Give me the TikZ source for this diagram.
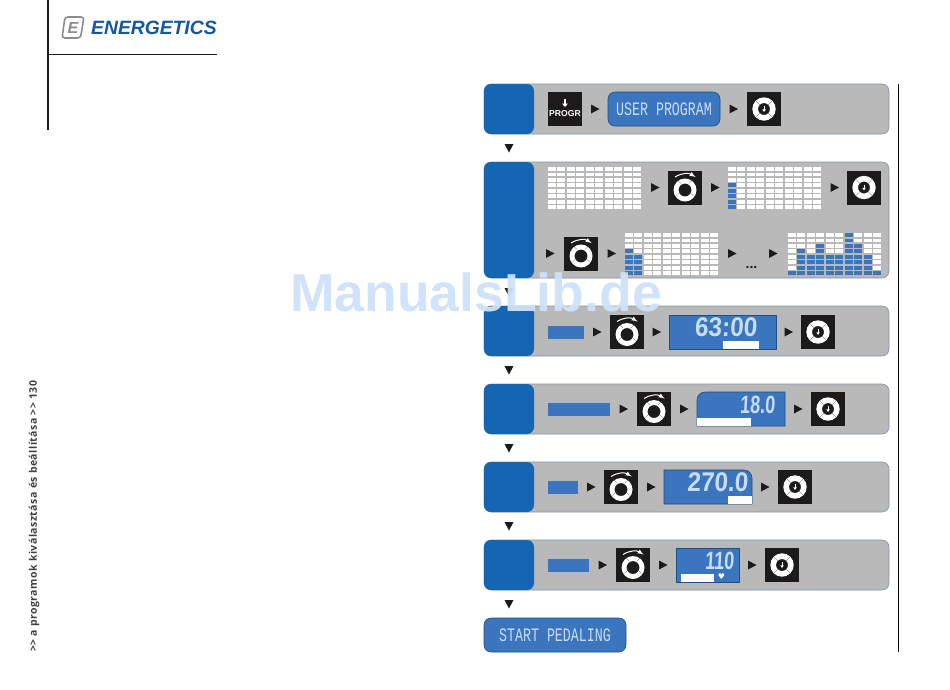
\documentclass[tikz,border=0pt]{standalone}
\usepackage{fontspec}
\usetikzlibrary{positioning, decorations.markings}
\setmainfont{Liberation Sans}
\newfontfamily\lcdfont[FakeStretch=0.7]{Liberation Mono}
\newfontfamily\valuefont[FakeStretch=0.9, FakeSlant=0.06]{Liberation Sans}
\newfontfamily\shortvaluefont[FakeStretch=0.72, FakeSlant=0.06]{Liberation Sans}
\newfontfamily\marginfont[LetterSpace=4.5]{Open Sans}
\newfontfamily\heartfont{DejaVu Sans}
\definecolor{tabblue}{HTML}{1566B2}
\definecolor{lcdblue}{HTML}{3A75BD}
\definecolor{lcdedge}{HTML}{1F4F85}
\definecolor{lcdtext}{HTML}{C9DCF2}
\definecolor{panelgray}{HTML}{B9B9B9}
\definecolor{paneledge}{HTML}{7F93A8}
\definecolor{keyblack}{HTML}{1C1A1B}
\definecolor{logoblue}{HTML}{14589F}
\definecolor{logogray}{HTML}{8C8C8C}
\definecolor{markblue}{HTML}{CFE2FA}
\tikzset{
  panel/.style={fill=panelgray, draw=paneledge, line width=0.6pt, rounded corners=7pt, minimum width=405pt, inner sep=0pt, outer sep=0pt},
  steptab/.style={fill=tabblue, rounded corners=7pt, minimum width=50pt, inner sep=0pt, outer sep=0pt},
  keybox/.style={fill=keyblack, minimum width=34pt, minimum height=34pt, inner sep=0pt, outer sep=0pt},
  okdial/.style={keybox, path picture={
    \begin{scope}[shift={(path picture bounding box.center)}, x=1pt, y=1pt]
      \fill[white, even odd rule] (0,0) circle (11.7) (0,0) circle (6);
      \foreach \gap in {45,135,225,315} \draw[keyblack!80, line width=0.3pt] (\gap:5.5) -- (\gap:12);
      \draw[white, line width=0.7pt] (0,2.8) -- (0,-0.5);
      \fill[white] (-1.8,-0.3) -- (1.8,-0.3) -- (0,-3) -- cycle;
    \end{scope}}},
  turndial/.style={keybox, path picture={
    \begin{scope}[shift={(path picture bounding box.center)}, x=1pt, y=1pt]
      \fill[white, even odd rule] (0,-2.5) circle (11.5) (0,-2.5) circle (6.5);
      \foreach \gap in {45,135,225,315} \draw[keyblack!80, line width=0.3pt, shift={(0,-2.5)}] (\gap:6) -- (\gap:12);
      \draw[white, line width=1pt, ->] (-10,10.5) to[bend left=32] (10.5,10.5);
    \end{scope}}},
  ledgrid/.style={minimum width=94pt, minimum height=43pt, inner sep=0pt, outer sep=0pt, path picture={
    \begin{scope}[shift={(path picture bounding box.center)}, x=1pt, y=1pt]
      \foreach \level [count=\col from 0] in {#1}
        \foreach \row in {1,...,8} {
          \ifnum\row>\level \def\cellcolor{white}\else \def\cellcolor{lcdblue}\fi
          \fill[\cellcolor] (\col*9.45-47,\row*5.45-26.95) rectangle ++(8,3.8);
        }
    \end{scope}}},
  lcd/.style={fill=lcdblue, draw=lcdedge, line width=0.6pt, minimum height=34pt, inner sep=0pt, outer sep=0pt},
  lcdshape/.style={fill=lcdblue, draw=lcdedge, line width=0.6pt},
  lcdspace/.style={minimum height=34pt, inner sep=0pt, outer sep=0pt},
  lcdrounded/.style={lcd, rounded corners=7pt, text=lcdtext, font=\lcdfont\fontsize{19}{19}\selectfont},
  lcdvalue/.style={text=lcdtext, inner sep=0pt, font=\valuefont\bfseries\fontsize{27}{27}\selectfont},
  lcdshort/.style={text=lcdtext, inner sep=0pt, font=\shortvaluefont\bfseries\fontsize{25}{25}\selectfont},
  lcdbar/.style={fill=white, minimum height=8.5pt, inner sep=0pt, outer sep=0pt},
  label/.style={fill=lcdblue, minimum height=13pt, inner sep=0pt, outer sep=0pt},
  linkstep/.style={draw=none, postaction={decorate}, decoration={markings, mark=at position 0.5 with {\fill[keyblack] (-4,-4.5) -- (4.5,0) -- (-4,4.5) -- cycle;}}}
}
\begin{document}
\begin{tikzpicture}[x=1pt, y=-1pt, node distance=26pt, >=latex]
    \useasboundingbox (0,0) rectangle (950,689);

    \node (PanelOne) [panel, minimum height=50pt] at (686.5,109) {};
    \node (PanelTwo) [panel, minimum height=116pt, below=28pt of PanelOne] {};
    \node (PanelThree) [panel, minimum height=50pt, below=28pt of PanelTwo] {};
    \node (PanelFour) [panel, minimum height=50pt, below=28pt of PanelThree] {};
    \node (PanelFive) [panel, minimum height=50pt, below=28pt of PanelFour] {};
    \node (PanelSix) [panel, minimum height=50pt, below=28pt of PanelFive] {};

    \node (TabOne) [steptab, minimum height=50pt, anchor=west] at (PanelOne.west) {};
    \node (TabTwo) [steptab, minimum height=116pt, anchor=west] at (PanelTwo.west) {};
    \node (TabThree) [steptab, minimum height=50pt, anchor=west] at (PanelThree.west) {};
    \node (TabFour) [steptab, minimum height=50pt, anchor=west] at (PanelFour.west) {};
    \node (TabFive) [steptab, minimum height=50pt, anchor=west] at (PanelFive.west) {};
    \node (TabSix) [steptab, minimum height=50pt, anchor=west] at (PanelSix.west) {};
    \node (StartPedaling) [lcdrounded, minimum height=34pt, minimum width=142pt, anchor=north west] at ([yshift=-28pt]TabSix.south west) {START PEDALING};

    \node (Progr) [keybox, right=14pt of TabOne] {};
    \fill[white] ([xshift=-1pt,yshift=10pt]Progr.center) rectangle ([xshift=1pt,yshift=5pt]Progr.center);
    \fill[white] ([xshift=-3pt,yshift=5.5pt]Progr.center) -- ([xshift=3pt,yshift=5.5pt]Progr.center) -- ([yshift=2pt]Progr.center) -- cycle;
    \node (ProgrLabel) [text=white, inner sep=0pt, font=\bfseries\fontsize{8.6}{9}\selectfont] at ([yshift=-4.5pt]Progr.center) {PROGR};
    \node (UserProgram) [lcdrounded, minimum width=112pt, right=of Progr] {USER PROGRAM};
    \node (OkOne) [okdial, right=27pt of UserProgram] {};

    \node (GridBlank) [ledgrid={0,0,0,0,0,0,0,0,0,0}, anchor=north west] at ([xshift=64pt,yshift=-4pt]PanelTwo.north west) {};
    \node (TurnOne) [turndial, right=of GridBlank] {};
    \node (GridFirst) [ledgrid={5,0,0,0,0,0,0,0,0,0}, right=of TurnOne] {};
    \node (OkTwo) [okdial, right=25pt of GridFirst] {};
    \node (GridSecond) [ledgrid={5,4,0,0,0,0,0,0,0,0}, anchor=south west] at ([xshift=141pt,yshift=3pt]PanelTwo.south west) {};
    \node (TurnTwo) [turndial, left=27pt of GridSecond] {};
    \coordinate[left=28pt of TurnTwo] (WrapStart);
    \coordinate[right=26pt of GridSecond] (DotsIn);
    \coordinate[right=13pt of DotsIn] (DotsOut);
    \node (GridLast) [ledgrid={1,5,4,6,4,4,8,6,4,1}, right=30pt of DotsOut] {};
    \node (Dots) [text=keyblack, inner sep=0pt, font=\bfseries\fontsize{14}{14}\selectfont] at ([xshift=6.5pt,yshift=-14pt]DotsIn) {...};

    \node (LabelThree) [label, minimum width=36pt, right=14pt of TabThree, yshift=-1pt] {};
    \node (TurnThree) [turndial, right=of LabelThree] {};
    \node (LcdThree) [lcd, minimum width=107pt, right=25pt of TurnThree] {};
    \node (BarThree) [lcdbar, minimum width=36pt, anchor=south east] at ([xshift=-17pt]LcdThree.south east) {};
    \node (ValueThree) [lcdvalue, anchor=east] at ([xshift=-19pt,yshift=5pt]LcdThree.east) {63:00};
    \node (OkThree) [okdial, right=25pt of LcdThree] {};

    \node (LabelFour) [label, minimum width=62pt, right=14pt of TabFour] {};
    \node (TurnFour) [turndial, right=27pt of LabelFour] {};
    \node (LcdFour) [lcdspace, minimum width=88pt, right=of TurnFour] {};
    \draw[lcdshape] (LcdFour.south west) [rounded corners=8pt] -- (LcdFour.north west) [sharp corners] -- (LcdFour.north east) -- (LcdFour.south east) -- cycle;
    \node (BarFour) [lcdbar, minimum width=54pt, anchor=south west] at (LcdFour.south west) {};
    \node (ValueFour) [lcdshort, anchor=east] at ([xshift=-10pt,yshift=4pt]LcdFour.east) {18.0};
    \node (OkFour) [okdial, right=of LcdFour] {};

    \node (LabelFive) [label, minimum width=30pt, right=14pt of TabFive] {};
    \node (TurnFive) [turndial, right=of LabelFive] {};
    \node (LcdFive) [lcdspace, minimum width=88pt, right=of TurnFive] {};
    \draw[lcdshape] (LcdFive.south west) -- (LcdFive.north west) [rounded corners=8pt] -- (LcdFive.north east) [sharp corners] -- (LcdFive.south east) -- cycle;
    \node (BarFive) [lcdbar, minimum width=24pt, anchor=south east] at (LcdFive.south east) {};
    \node (ValueFive) [lcdvalue, anchor=east] at ([xshift=-4pt,yshift=5pt]LcdFive.east) {270.0};
    \node (OkFive) [okdial, right=of LcdFive] {};

    \node (LabelSix) [label, minimum width=41pt, right=14pt of TabSix] {};
    \node (TurnSix) [turndial, right=27pt of LabelSix] {};
    \node (LcdSix) [lcd, minimum width=63pt, right=of TurnSix] {};
    \node (BarSix) [lcdbar, minimum width=33pt, anchor=south west] at ([xshift=5pt]LcdSix.south west) {};
    \node (HeartSix) [text=white, inner sep=0pt, font=\heartfont\fontsize{8}{8}\selectfont] at ([xshift=14pt,yshift=-12pt]LcdSix.center) {♥};
    \node (ValueSix) [lcdshort, anchor=east] at ([xshift=-5pt,yshift=4pt]LcdSix.east) {110};
    \node (OkSix) [okdial, right=of LcdSix] {};

    \draw[linkstep] (Progr) -- (UserProgram);
    \draw[linkstep] (UserProgram) -- (OkOne);
    \draw[linkstep] (GridBlank) -- (TurnOne);
    \draw[linkstep] (TurnOne) -- (GridFirst);
    \draw[linkstep] (GridFirst) -- (OkTwo);
    \draw[linkstep] (WrapStart) -- (TurnTwo);
    \draw[linkstep] (TurnTwo) -- (GridSecond);
    \draw[linkstep] (GridSecond) -- (DotsIn);
    \draw[linkstep] (DotsOut) -- (GridLast);
    \draw[linkstep] (LabelThree) -- (TurnThree);
    \draw[linkstep] (TurnThree) -- (LcdThree);
    \draw[linkstep] (LcdThree) -- (OkThree);
    \draw[linkstep] (LabelFour) -- (TurnFour);
    \draw[linkstep] (TurnFour) -- (LcdFour);
    \draw[linkstep] (LcdFour) -- (OkFour);
    \draw[linkstep] (LabelFive) -- (TurnFive);
    \draw[linkstep] (TurnFive) -- (LcdFive);
    \draw[linkstep] (LcdFive) -- (OkFive);
    \draw[linkstep] (LabelSix) -- (TurnSix);
    \draw[linkstep] (TurnSix) -- (LcdSix);
    \draw[linkstep] (LcdSix) -- (OkSix);
    \draw[linkstep] (TabOne) -- (TabTwo);
    \draw[linkstep] (TabTwo) -- (TabThree);
    \draw[linkstep] (TabThree) -- (TabFour);
    \draw[linkstep] (TabFour) -- (TabFive);
    \draw[linkstep] (TabFive) -- (TabSix);
    \draw[linkstep] (TabSix.south) -- (TabSix.south |- StartPedaling.north);

    \draw[black, line width=0.8pt] (898,84) -- (898,652);
    \draw[keyblack, line width=2pt] (47.5,0) -- (47.5,130);
    \draw[keyblack, line width=0.7pt] (48,54) -- (217,54);
    \draw[logogray, line width=1.6pt, rounded corners=3pt] (65,17) -- (84,17) -- (80.5,38) -- (62,38) -- cycle;
    \node (LogoMark) [text=logogray, inner sep=0pt, font=\bfseries\itshape\fontsize{16}{16}\selectfont] at (73,27.5) {E};
    \node (Logo) [text=logoblue, inner sep=0pt, anchor=west, font=\bfseries\itshape\fontsize{19.3}{19}\selectfont] at (91,28) {ENERGETICS};
    \node (MarginText) [text=black!75, inner sep=0pt, anchor=west, rotate=90, font=\marginfont\bfseries\fontsize{10.5}{11}\selectfont] at (34,652) {>> a programok kiválasztása és beállítása >> 130};
    \node (WaterMark) [text=markblue, opacity=0.95, inner sep=0pt, font=\bfseries\fontsize{53.5}{54}\selectfont] at (476,292) {ManualsLib.de};
\end{tikzpicture}
\end{document}
